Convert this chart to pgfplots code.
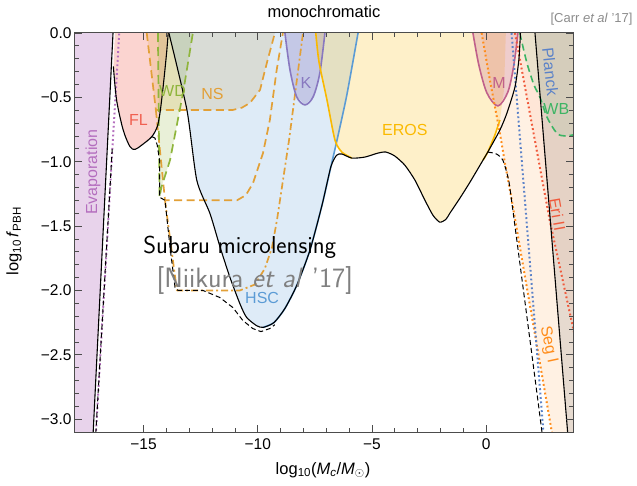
\documentclass[border=0pt]{standalone}
\usepackage{fontspec}
\setmainfont{Liberation Sans}
\usepackage{pgfplots}
\pgfplotsset{compat=1.18}

\definecolor{evap}{RGB}{180,110,190}
\definecolor{flc}{RGB}{240,96,80}
\definecolor{nsc}{RGB}{226,160,55}
\definecolor{wdc}{RGB}{143,181,60}
\definecolor{hscc}{RGB}{91,155,213}
\definecolor{kc}{RGB}{136,120,192}
\definecolor{erosc}{RGB}{250,185,0}
\definecolor{mc}{RGB}{192,96,138}
\definecolor{segc}{RGB}{255,140,26}
\definecolor{eric}{RGB}{240,90,60}
\definecolor{planckc}{RGB}{91,130,200}
\definecolor{wbc}{RGB}{60,180,100}

\begin{document}
\begin{tikzpicture}
\path[use as bounding box] (-75pt,-53pt) rectangle (562pt,432pt);
\begin{axis}[
    at={(0pt,0pt)}, anchor=south west,
    scale only axis, width=498pt, height=399pt,
    xmin=-18, xmax=3.8, ymin=-3.1, ymax=0,
    axis on top,
    tick align=inside,
    xtick={-15,-10,-5,0}, xticklabels={−15,−10,−5,0},
    minor x tick num=4,
    ytick={-3,-2.5,-2,-1.5,-1,-0.5,0},
    yticklabels={−3.0,−2.5,−2.0,−1.5,−1.0,−0.5,0.0},
    minor y tick num=4,
    major tick length=7pt, minor tick length=4pt,
    tick style={black!70, line width=0.8pt},
    axis line style={black!70, line width=1pt},
    ticklabel style={font=\fontsize{15.5}{17}\selectfont},
    xticklabel style={yshift=-3pt},
    every axis plot/.append style={line join=round},
]
% ---- fills
\addplot[fill=evap, fill opacity=0.3, draw=none] coordinates {
    (-18.5,0.2) (-16.28,0.2) (-17.26,-3.3) (-18.5,-3.3)} -- cycle;
\addplot[fill=flc, fill opacity=0.27, draw=none] coordinates {
    (-16.25,0) (-16.32,-0.26) (-16.18,-0.52) (-15.89,-0.754) (-15.59,-0.884)
    (-15.37,-0.904) (-15.08,-0.871) (-14.64,-0.806) (-14.40,-0.728)
    (-14.28,-0.621) (-14.14,-0.416) (-13.99,-0.154) (-13.92,0)} -- cycle;
\addplot[fill=nsc, fill opacity=0.2, draw=none] coordinates {
    (-14.86,0) (-14.46,-0.598) (-11.09,-0.598) (-10.69,-0.58) (-10.34,-0.543)
    (-9.90,-0.442) (-9.60,-0.231) (-9.25,0)} -- cycle;
\addplot[fill=wdc, fill opacity=0.2, draw=none] coordinates {
    (-14.37,0) (-14.30,-1.276) (-14.22,-1.2) (-13.84,-0.988) (-13.27,-0.466)
    (-12.84,0)} -- cycle;
\addplot[fill=hscc, fill opacity=0.2, draw=none] coordinates {
    (-13.89,0) (-13.10,-0.598) (-12.67,-1.143) (-12.09,-1.403) (-11.65,-1.663)
    (-11.22,-1.897) (-10.78,-2.104) (-10.49,-2.209) (-10.05,-2.274)
    (-9.76,-2.287) (-9.29,-2.25) (-8.81,-2.14) (-8.29,-1.96) (-7.72,-1.69)
    (-7.19,-1.34) (-6.80,-1.04) (-6.53,-0.832) (-6.10,-0.481) (-5.61,0)} -- cycle;
\addplot[fill=kc, fill opacity=0.3, draw=none] coordinates {
    (-8.81,0) (-8.59,-0.286) (-8.30,-0.494) (-7.93,-0.559) (-7.57,-0.494)
    (-7.28,-0.309) (-7.06,0)} -- cycle;
\addplot[fill=erosc, fill opacity=0.21, draw=none] coordinates {
    (-7.46,0) (-7.32,-0.224) (-6.97,-0.52) (-6.62,-0.832) (-6.32,-0.925)
    (-5.88,-0.972) (-5.31,-0.964) (-4.74,-0.933) (-4.39,-0.925) (-4.00,-0.956)
    (-3.56,-1.027) (-3.12,-1.143) (-2.68,-1.30) (-2.33,-1.416) (-2.03,-1.47)
    (-1.76,-1.447) (-1.59,-1.40) (-1.15,-1.283) (-0.71,-1.159) (-0.14,-0.988)
    (0.07,-0.925) (0.38,-0.793) (0.60,-0.676) (0.78,-0.442) (0.86,0)} -- cycle;
\addplot[fill=segc, fill opacity=0.12, draw=none] coordinates {
    (-0.20,0) (0.16,-0.364) (0.60,-0.778) (0.82,-1.01) (1.12,-1.30) (2.97,-3.2)
    (4.2,-3.2) (4.2,0)} -- cycle;
\addplot[fill=mc, fill opacity=0.25, draw=none] coordinates {
    (-0.58,0) (-0.32,-0.25) (0.03,-0.465) (0.51,-0.567) (0.95,-0.458)
    (1.21,-0.25) (1.39,0)} -- cycle;
\addplot[fill=eric, fill opacity=0.07, draw=none] coordinates {
    (1.26,0) (2.78,-1.455) (3.80,-2.29) (4.2,-2.6) (4.2,0)} -- cycle;
\addplot[fill=wbc, fill opacity=0.1, draw=none] coordinates {
    (1.47,0) (1.78,-0.231) (2.09,-0.403) (2.35,-0.497) (2.66,-0.653)
    (3.09,-0.778) (3.45,-0.80) (4.2,-0.79) (4.2,0)} -- cycle;
\addplot[fill=black!60, fill opacity=0.16, draw=none] coordinates {
    (2.13,0) (3.61,-3.2) (4.2,-3.2) (4.2,0)} -- cycle;

% ---- coloured boundaries
\addplot[evap, line width=2pt, dash pattern=on 1.8pt off 2.6pt] coordinates {
    (-16.00,0.2) (-17.15,-3.3)};
\addplot[nsc, line width=1.7pt, dash pattern=on 8pt off 4.5pt] coordinates {
    (-14.86,0) (-14.46,-0.598) (-11.09,-0.598) (-10.69,-0.58) (-10.34,-0.543)
    (-9.90,-0.442) (-9.60,-0.231) (-9.25,0)};
\addplot[nsc, line width=1.7pt, dash pattern=on 8pt off 4.5pt] coordinates {
    (-14.46,-0.598) (-14.06,-1.30) (-10.91,-1.30) (-10.52,-1.26) (-10.21,-1.167)
    (-9.77,-0.933) (-9.47,-0.676) (-9.17,-0.286) (-8.90,0)};
\addplot[nsc, line width=1.7pt, dash pattern=on 7pt off 3pt on 2pt off 3pt] coordinates {
    (-14.06,-1.30) (-13.54,-2.0) (-10.78,-2.0) (-10.12,-1.954) (-9.69,-1.83)
    (-9.38,-1.67) (-9.16,-1.455) (-8.63,-0.832) (-8.02,0)};
\addplot[wdc, line width=1.7pt, dash pattern=on 9pt off 5pt] coordinates {
    (-14.37,0) (-14.30,-1.276) (-14.22,-1.2) (-13.84,-0.988) (-13.27,-0.466)
    (-12.84,0)};
\addplot[hscc, line width=1.6pt, smooth, tension=0.4] coordinates {
    (-9.76,-2.287) (-9.29,-2.25) (-8.81,-2.14) (-8.29,-1.96) (-7.72,-1.69)
    (-7.19,-1.34) (-6.80,-1.04) (-6.53,-0.832) (-6.10,-0.481) (-5.61,0)};
\addplot[kc, line width=1.6pt, smooth, tension=0.5] coordinates {
    (-8.81,0) (-8.59,-0.286) (-8.30,-0.494) (-7.93,-0.559) (-7.57,-0.494)
    (-7.28,-0.309) (-7.06,0)};
\addplot[erosc, line width=1.6pt, smooth, tension=0.4] coordinates {
    (-7.46,0) (-7.32,-0.224) (-6.97,-0.52) (-6.62,-0.832) (-6.32,-0.925)
    (-5.88,-0.972)};
\addplot[erosc, line width=1.6pt, smooth, tension=0.4] coordinates {
    (-0.14,-0.988) (0.07,-0.925) (0.38,-0.793) (0.60,-0.676)};
\addplot[mc, line width=1.6pt, smooth, tension=0.5] coordinates {
    (-0.58,0) (-0.32,-0.25) (0.03,-0.465) (0.51,-0.567) (0.95,-0.458)
    (1.21,-0.25) (1.39,0)};
\addplot[segc, line width=2pt, dash pattern=on 1.8pt off 2.6pt] coordinates {
    (-0.20,0) (0.16,-0.364) (0.60,-0.778) (0.82,-1.01) (1.12,-1.30) (2.97,-3.2)};
\addplot[planckc, line width=2pt, dash pattern=on 1.8pt off 2.6pt] coordinates {
    (1.11,0) (2.55,-3.2)};
\addplot[eric, line width=2pt, dash pattern=on 1.8pt off 2.6pt] coordinates {
    (1.26,0) (2.78,-1.455) (3.80,-2.29) (4.0,-2.45)};
\addplot[wbc, line width=1.6pt, dash pattern=on 7pt off 4pt, smooth, tension=0.5] coordinates {
    (1.47,0) (1.78,-0.231) (2.09,-0.403) (2.35,-0.497) (2.66,-0.653)
    (3.09,-0.778) (3.45,-0.80) (3.85,-0.79)};

% ---- combined bounds
\addplot[black, line width=1pt, dash pattern=on 5pt off 3pt] coordinates {
    (-16.37,-0.9) (-17.15,-3.3)};
\addplot[black, line width=1pt, dash pattern=on 5pt off 3pt] coordinates {
    (-14.63,-0.806) (-14.50,-0.816) (-14.40,-0.871) (-14.30,-0.988)
    (-14.30,-1.276) (-14.06,-1.30) (-13.84,-1.665) (-13.62,-1.977) (-13.49,-2.0)
    (-12.40,-2.0) (-11.66,-2.055) (-11.09,-2.133) (-10.65,-2.234) (-10.22,-2.296)
    (-9.86,-2.32) (-9.47,-2.296) (-9.25,-2.266)};
\addplot[black, line width=1pt, dash pattern=on 5pt off 3pt, smooth, tension=0.4] coordinates {
    (0.07,-0.925) (0.45,-0.94) (0.73,-0.988) (0.95,-1.12) (1.11,-1.30) (2.42,-3.07)
    (2.47,-3.2)};
\addplot[black, line width=1.1pt] coordinates {(-16.28,0.2) (-17.26,-3.3)};
\addplot[black, line width=1.1pt, smooth, tension=0.5] coordinates {
    (-16.32,-0.26) (-16.18,-0.52) (-15.89,-0.754) (-15.59,-0.884)
    (-15.37,-0.904) (-15.08,-0.871) (-14.64,-0.806) (-14.40,-0.728)
    (-14.28,-0.621) (-14.14,-0.416) (-13.99,-0.154) (-13.92,0)};
\addplot[black, line width=1.1pt, smooth, tension=0.4] coordinates {
    (-13.89,0) (-13.10,-0.598) (-12.67,-1.143) (-12.09,-1.403) (-11.65,-1.663)
    (-11.22,-1.897) (-10.78,-2.104) (-10.49,-2.209) (-10.05,-2.274)
    (-9.76,-2.287) (-9.29,-2.25) (-8.81,-2.14) (-8.29,-1.96) (-7.72,-1.69)
    (-7.19,-1.34) (-6.80,-1.04) (-6.55,-0.95) (-6.32,-0.94) (-5.88,-0.972)
    (-5.31,-0.964) (-4.74,-0.933) (-4.39,-0.925) (-4.00,-0.956)
    (-3.56,-1.027) (-3.12,-1.143) (-2.68,-1.30) (-2.33,-1.416) (-2.03,-1.47)
    (-1.76,-1.447) (-1.59,-1.40) (-1.15,-1.283) (-0.71,-1.159) (-0.14,-0.988)
    (0.07,-0.925) (0.60,-0.754) (0.91,-0.621) (1.26,-0.419) (1.43,-0.208)
    (1.50,0)};
\addplot[black, line width=1.1pt] coordinates {(2.09,0.1) (3.61,-3.2)};

% ---- labels
\node[text=evap, rotate=90, font=\fontsize{16}{18}\selectfont] at (axis cs:-17.21,-1.08) {Evaporation};
\node[text=flc, font=\fontsize{16}{18}\selectfont] at (axis cs:-15.22,-0.676) {FL};
\node[text=wdc, font=\fontsize{16}{18}\selectfont] at (axis cs:-13.73,-0.45) {WD};
\node[text=nsc, font=\fontsize{16}{18}\selectfont] at (axis cs:-11.98,-0.477) {NS};
\node[text=kc, font=\fontsize{16}{18}\selectfont] at (axis cs:-7.89,-0.39) {K};
\node[text=hscc, font=\fontsize{16}{18}\selectfont] at (axis cs:-9.81,-2.06) {HSC};
\node[text=erosc, font=\fontsize{16}{18}\selectfont] at (axis cs:-3.56,-0.754) {EROS};
\node[text=mc, font=\fontsize{16}{18}\selectfont] at (axis cs:0.56,-0.39) {M};
\node[text=planckc, rotate=-84, font=\fontsize{16}{18}\selectfont] at (axis cs:2.81,-0.30) {Planck};
\node[text=wbc, font=\fontsize{16}{18}\selectfont] at (axis cs:3.07,-0.59) {WB};
\node[text=eric, rotate=-80, font=\fontsize{16}{18}\selectfont] at (axis cs:3.12,-1.41) {Eri II};
\node[text=segc, rotate=-78, font=\fontsize{16}{18}\selectfont] at (axis cs:2.72,-2.42) {Seg I};
\node[anchor=base west, font=\sffamily\fontsize{24.5}{28}\selectfont] at (axis cs:-15.16,-1.712) {Subaru microlensing};
\node[anchor=base west, text=black!50, font=\sffamily\fontsize{28}{32}\selectfont] at (axis cs:-14.58,-1.975) {[Niikura \textit{et al} '17]};
\end{axis}
\node[font=\fontsize{16.5}{18}\selectfont] at (249pt,420pt) {monochromatic};
\node[anchor=east, text=black!45, font=\fontsize{13}{15}\selectfont] at (561pt,413pt) {[Carr \textit{et al} '17]};
\node[rotate=90, font=\fontsize{16.5}{18}\selectfont] at (-61pt,191pt) {log\textsubscript{10}\,\textit{f}\textsubscript{PBH}};
\node[font=\fontsize{16.5}{18}\selectfont] at (248pt,-38pt) {log\textsubscript{10}(\textit{M}\textsubscript{\textit{c}}/\textit{M}\textsubscript{$\odot$})};
\end{tikzpicture}
\end{document}
